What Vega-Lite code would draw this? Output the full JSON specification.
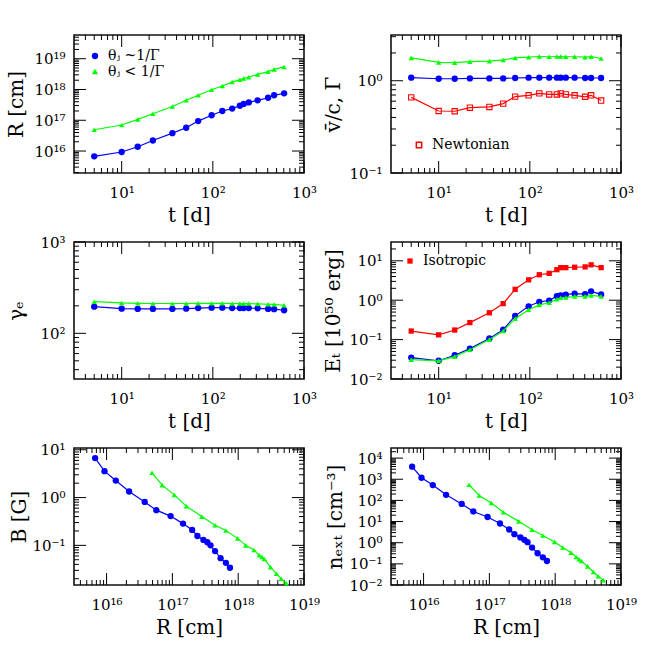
{
"$schema":"https://vega.github.io/schema/vega-lite/v6.json",
"padding":{"left":5,"top":34,"right":0,"bottom":0},
"config":{"view":{"stroke":"#111","strokeWidth":1.6},"font":"DejaVu Serif",
"axis":{"domain":false,"ticks":false,"grid":false,"labelFont":"DejaVu Serif","labelFontSize":15,"labelColor":"#000","titleFont":"DejaVu Serif","titleFontSize":20,"titleFontWeight":"normal","titleColor":"#000","labelFlush":false,"labelOverlap":false},
"tick":{"color":"#000","opacity":1,"thickness":1},
"legend":{"labelFont":"DejaVu Serif","labelFontSize":14,"labelColor":"#000","rowPadding":1.5,"labelOffset":6,"padding":0}},
"datasets":{"d":[
{"t":5,"Rb":6.7e15,"Rg":4.9e16,"Gb":1.08,"Gg":1.77,"vn":0.66,"geb":196,"geg":222,"Eb":0.035,"Eg":0.031,"Ei":0.165,"Bb":6.7,"Bg":3.3,"nb":3940,"ng":547},
{"t":10,"Rb":9.3e15,"Rg":7.0e16,"Gb":1.05,"Gg":1.58,"vn":0.47,"geb":186,"geg":215,"Eb":0.029,"Eg":0.029,"Ei":0.132,"Bb":3.57,"Bg":1.82,"nb":1180,"ng":170},
{"t":15,"Rb":1.38e16,"Rg":1.07e17,"Gb":1.05,"Gg":1.57,"vn":0.467,"geb":185,"geg":213,"Eb":0.040,"Eg":0.037,"Ei":0.175,"Bb":2.27,"Bg":1.14,"nb":530,"ng":76},
{"t":22,"Rb":2.2e16,"Rg":1.63e17,"Gb":1.06,"Gg":1.61,"vn":0.51,"geb":185,"geg":212,"Eb":0.059,"Eg":0.055,"Ei":0.27,"Bb":1.34,"Bg":0.66,"nb":183,"ng":27.4},
{"t":36,"Rb":3.8e16,"Rg":2.8e17,"Gb":1.06,"Gg":1.63,"vn":0.52,"geb":185,"geg":212,"Eb":0.107,"Eg":0.10,"Ei":0.48,"Bb":0.81,"Bg":0.40,"nb":68,"ng":10.2},
{"t":51,"Rb":5.7e16,"Rg":4.45e17,"Gb":1.06,"Gg":1.68,"vn":0.565,"geb":186,"geg":212,"Eb":0.178,"Eg":0.165,"Ei":0.82,"Bb":0.545,"Bg":0.264,"nb":30,"ng":4.07},
{"t":69,"Rb":9.4e16,"Rg":6.5e17,"Gb":1.07,"Gg":1.77,"vn":0.673,"geb":189,"geg":213,"Eb":0.40,"Eg":0.34,"Ei":1.89,"Bb":0.41,"Bg":0.204,"nb":16.4,"ng":2.2},
{"t":97,"Rb":1.45e17,"Rg":9.8e17,"Gb":1.08,"Gg":1.80,"vn":0.695,"geb":191,"geg":213,"Eb":0.70,"Eg":0.575,"Ei":3.29,"Bb":0.285,"Bg":0.14,"nb":8.1,"ng":1.09},
{"t":127,"Rb":2.0e17,"Rg":1.3e18,"Gb":1.08,"Gg":1.83,"vn":0.73,"geb":191,"geg":213,"Eb":0.91,"Eg":0.76,"Ei":4.43,"Bb":0.21,"Bg":0.10,"nb":4.2,"ng":0.59},
{"t":163,"Rb":2.4e17,"Rg":1.74e18,"Gb":1.08,"Gg":1.82,"vn":0.71,"geb":189,"geg":212,"Eb":0.98,"Eg":0.86,"Ei":4.8,"Bb":0.157,"Bg":0.080,"nb":2.54,"ng":0.34},
{"t":198,"Rb":2.96e17,"Rg":2.08e18,"Gb":1.08,"Gg":1.83,"vn":0.71,"geb":189,"geg":212,"Eb":1.27,"Eg":1.06,"Ei":5.95,"Bb":0.13,"Bg":0.062,"nb":1.77,"ng":0.21},
{"t":218,"Rb":3.4e17,"Rg":2.3e18,"Gb":1.08,"Gg":1.83,"vn":0.73,"geb":189,"geg":212,"Eb":1.32,"Eg":1.15,"Ei":6.7,"Bb":0.116,"Bg":0.057,"nb":1.36,"ng":0.164},
{"t":248,"Rb":3.8e17,"Rg":2.5e18,"Gb":1.08,"Gg":1.82,"vn":0.71,"geb":189,"geg":212,"Eb":1.38,"Eg":1.17,"Ei":6.7,"Bb":0.10,"Bg":0.052,"nb":1.06,"ng":0.136},
{"t":310,"Rb":4.45e17,"Rg":3.1e18,"Gb":1.08,"Gg":1.82,"vn":0.695,"geb":188,"geg":210,"Eb":1.46,"Eg":1.25,"Ei":6.86,"Bb":0.076,"Bg":0.035,"nb":0.59,"ng":0.076},
{"t":404,"Rb":5.4e17,"Rg":3.8e18,"Gb":1.07,"Gg":1.80,"vn":0.67,"geb":185,"geg":208,"Eb":1.42,"Eg":1.25,"Ei":7.0,"Bb":0.054,"Bg":0.0255,"nb":0.316,"ng":0.041},
{"t":470,"Rb":6.5e17,"Rg":4.5e18,"Gb":1.07,"Gg":1.82,"vn":0.695,"geb":184,"geg":207,"Eb":1.68,"Eg":1.32,"Ei":7.9,"Bb":0.043,"Bg":0.020,"nb":0.204,"ng":0.026},
{"t":605,"Rb":7.5e17,"Rg":5.4e18,"Gb":1.07,"Gg":1.74,"vn":0.61,"geb":179,"geg":203,"Eb":1.40,"Eg":1.25,"Ei":6.7,"Bb":0.034,"Bg":0.016,"nb":0.136,"ng":0.017}
],
"tM":[{"v":10},{"v":100},{"v":1000}],
"tm":[{"v":4},{"v":5},{"v":6},{"v":7},{"v":8},{"v":9},{"v":20},{"v":30},{"v":40},{"v":50},{"v":60},{"v":70},{"v":80},{"v":90},{"v":200},{"v":300},{"v":400},{"v":500},{"v":600},{"v":700},{"v":800},{"v":900}],
"RM":[{"v":1e16},{"v":1e17},{"v":1e18},{"v":1e19}],
"Rm1":[{"v":2e15},{"v":3e15},{"v":4e15},{"v":5e15},{"v":6e15},{"v":7e15},{"v":8e15},{"v":9e15},{"v":2e16},{"v":3e16},{"v":4e16},{"v":5e16},{"v":6e16},{"v":7e16},{"v":8e16},{"v":9e16},{"v":2e17},{"v":3e17},{"v":4e17},{"v":5e17},{"v":6e17},{"v":7e17},{"v":8e17},{"v":9e17},{"v":2e18},{"v":3e18},{"v":4e18},{"v":5e18},{"v":6e18},{"v":7e18},{"v":8e18},{"v":9e18},{"v":2e19},{"v":3e19},{"v":4e19},{"v":5e19}],
"Rm2":[{"v":4e15},{"v":5e15},{"v":6e15},{"v":7e15},{"v":8e15},{"v":9e15},{"v":2e16},{"v":3e16},{"v":4e16},{"v":5e16},{"v":6e16},{"v":7e16},{"v":8e16},{"v":9e16},{"v":2e17},{"v":3e17},{"v":4e17},{"v":5e17},{"v":6e17},{"v":7e17},{"v":8e17},{"v":9e17},{"v":2e18},{"v":3e18},{"v":4e18},{"v":5e18},{"v":6e18},{"v":7e18},{"v":8e18},{"v":9e18}],
"GM":[{"v":0.1},{"v":1}],
"Gm":[{"v":0.2},{"v":0.3},{"v":0.4},{"v":0.5},{"v":0.6},{"v":0.7},{"v":0.8},{"v":0.9},{"v":2},{"v":3}],
"gM":[{"v":100},{"v":1000}],
"gm":[{"v":40},{"v":50},{"v":60},{"v":70},{"v":80},{"v":90},{"v":200},{"v":300},{"v":400},{"v":500},{"v":600},{"v":700},{"v":800},{"v":900}],
"EM":[{"v":0.01},{"v":0.1},{"v":1},{"v":10}],
"Em":[{"v":0.02},{"v":0.03},{"v":0.04},{"v":0.05},{"v":0.06},{"v":0.07},{"v":0.08},{"v":0.09},{"v":0.2},{"v":0.3},{"v":0.4},{"v":0.5},{"v":0.6},{"v":0.7},{"v":0.8},{"v":0.9},{"v":2},{"v":3},{"v":4},{"v":5},{"v":6},{"v":7},{"v":8},{"v":9},{"v":20}],
"BM":[{"v":0.1},{"v":1},{"v":10}],
"Bm":[{"v":0.02},{"v":0.03},{"v":0.04},{"v":0.05},{"v":0.06},{"v":0.07},{"v":0.08},{"v":0.09},{"v":0.2},{"v":0.3},{"v":0.4},{"v":0.5},{"v":0.6},{"v":0.7},{"v":0.8},{"v":0.9},{"v":2},{"v":3},{"v":4},{"v":5},{"v":6},{"v":7},{"v":8},{"v":9}],
"nM":[{"v":0.01},{"v":0.1},{"v":1},{"v":10},{"v":100},{"v":1000},{"v":10000}],
"nm":[{"v":0.02},{"v":0.03},{"v":0.04},{"v":0.05},{"v":0.06},{"v":0.07},{"v":0.08},{"v":0.09},{"v":0.2},{"v":0.3},{"v":0.4},{"v":0.5},{"v":0.6},{"v":0.7},{"v":0.8},{"v":0.9},{"v":2},{"v":3},{"v":4},{"v":5},{"v":6},{"v":7},{"v":8},{"v":9},{"v":20},{"v":30},{"v":40},{"v":50},{"v":60},{"v":70},{"v":80},{"v":90},{"v":200},{"v":300},{"v":400},{"v":500},{"v":600},{"v":700},{"v":800},{"v":900},{"v":2000},{"v":3000},{"v":4000},{"v":5000},{"v":6000},{"v":7000},{"v":8000},{"v":9000},{"v":20000}]
},
"data":{"name":"d"},
"columns":2,
"spacing":{"row":69,"column":87},
"bounds":"flush",
"resolve":{"scale":{"color":"independent","shape":"independent"}},
"concat":[
{"width":230,"height":138,"resolve":{"axis":{"x":"independent","y":"independent"}},
"layer":[
{"mark":{"type":"point","opacity":0},"encoding":{
"x":{"field":"t","type":"quantitative","scale":{"type":"log","domain":[3,1000],"nice":false},"axis":{"orient":"bottom","values":[10,100,1000],"labelExpr":"'10'+(round(log(datum.value)/LN10)<0?'⁻':'')+(abs(round(log(datum.value)/LN10))>9?substring('⁰¹²³⁴⁵⁶⁷⁸⁹',floor(abs(round(log(datum.value)/LN10))/10),floor(abs(round(log(datum.value)/LN10))/10)+1):'')+substring('⁰¹²³⁴⁵⁶⁷⁸⁹',abs(round(log(datum.value)/LN10))%10,abs(round(log(datum.value)/LN10))%10+1)","labelPadding":24,"labelBaseline":"alphabetic","title":"t [d]","titleY":48,"titleBaseline":"alphabetic"}},
"y":{"field":"Rb","type":"quantitative","scale":{"type":"log","domain":[1.93e15,5.9e19],"nice":false},"axis":{"orient":"left","values":[1e16,1e17,1e18,1e19],"labelExpr":"'10'+(round(log(datum.value)/LN10)<0?'⁻':'')+(abs(round(log(datum.value)/LN10))>9?substring('⁰¹²³⁴⁵⁶⁷⁸⁹',floor(abs(round(log(datum.value)/LN10))/10),floor(abs(round(log(datum.value)/LN10))/10)+1):'')+substring('⁰¹²³⁴⁵⁶⁷⁸⁹',abs(round(log(datum.value)/LN10))%10,abs(round(log(datum.value)/LN10))%10+1)","labelPadding":9,"labelBaseline":"middle","title":"R [cm]","titleX":-52,"titleBaseline":"alphabetic"}}}},
{"data":{"name":"tM"},"mark":{"type":"tick","orient":"vertical","size":12,"yOffset":-6},"encoding":{"x":{"field":"v","type":"quantitative","axis":null},"y":{"datum":1.93e15,"axis":null}}},
{"data":{"name":"tm"},"mark":{"type":"tick","orient":"vertical","size":5,"yOffset":-2.5},"encoding":{"x":{"field":"v","type":"quantitative","axis":null},"y":{"datum":1.93e15,"axis":null}}},
{"data":{"name":"tM"},"mark":{"type":"tick","orient":"vertical","size":12,"yOffset":6},"encoding":{"x":{"field":"v","type":"quantitative","axis":null},"y":{"datum":5.9e19,"axis":null}}},
{"data":{"name":"tm"},"mark":{"type":"tick","orient":"vertical","size":5,"yOffset":2.5},"encoding":{"x":{"field":"v","type":"quantitative","axis":null},"y":{"datum":5.9e19,"axis":null}}},
{"data":{"name":"RM"},"mark":{"type":"tick","orient":"horizontal","size":12,"xOffset":6},"encoding":{"y":{"field":"v","type":"quantitative","axis":null},"x":{"datum":3,"axis":null}}},
{"data":{"name":"Rm1"},"mark":{"type":"tick","orient":"horizontal","size":5,"xOffset":2.5},"encoding":{"y":{"field":"v","type":"quantitative","axis":null},"x":{"datum":3,"axis":null}}},
{"data":{"name":"RM"},"mark":{"type":"tick","orient":"horizontal","size":12,"xOffset":-6},"encoding":{"y":{"field":"v","type":"quantitative","axis":null},"x":{"datum":1000,"axis":null}}},
{"data":{"name":"Rm1"},"mark":{"type":"tick","orient":"horizontal","size":5,"xOffset":-2.5},"encoding":{"y":{"field":"v","type":"quantitative","axis":null},"x":{"datum":1000,"axis":null}}},
{"mark":{"type":"line","color":"#0000ff","strokeWidth":1.2},"encoding":{"x":{"field":"t","type":"quantitative","axis":null},"y":{"field":"Rb","type":"quantitative","axis":null}}},
{"mark":{"type":"point","filled":true,"opacity":1,"size":40},"encoding":{"x":{"field":"t","type":"quantitative","axis":null},"y":{"field":"Rb","type":"quantitative","axis":null},
"color":{"datum":"θⱼ ~1/Γ","type":"nominal","scale":{"domain":["θⱼ ~1/Γ","θⱼ < 1/Γ"],"range":["#0000ff","#00ff00"]},"legend":{"orient":"top-left","offset":14,"title":null,"symbolSize":40}},
"shape":{"datum":"θⱼ ~1/Γ","type":"nominal","scale":{"domain":["θⱼ ~1/Γ","θⱼ < 1/Γ"],"range":["circle","triangle-up"]}}}},
{"mark":{"type":"line","color":"#00ff00","strokeWidth":1.2},"encoding":{"x":{"field":"t","type":"quantitative","axis":null},"y":{"field":"Rg","type":"quantitative","axis":null}}},
{"mark":{"type":"point","filled":true,"opacity":1,"size":28},"encoding":{"x":{"field":"t","type":"quantitative","axis":null},"y":{"field":"Rg","type":"quantitative","axis":null},
"color":{"datum":"θⱼ < 1/Γ","type":"nominal"},"shape":{"datum":"θⱼ < 1/Γ","type":"nominal"}}}
]},
{"width":230,"height":138,"resolve":{"axis":{"x":"independent","y":"independent"}},
"layer":[
{"mark":{"type":"point","opacity":0},"encoding":{
"x":{"field":"t","type":"quantitative","scale":{"type":"log","domain":[3,1000],"nice":false},"axis":{"orient":"bottom","values":[10,100,1000],"labelExpr":"'10'+(round(log(datum.value)/LN10)<0?'⁻':'')+(abs(round(log(datum.value)/LN10))>9?substring('⁰¹²³⁴⁵⁶⁷⁸⁹',floor(abs(round(log(datum.value)/LN10))/10),floor(abs(round(log(datum.value)/LN10))/10)+1):'')+substring('⁰¹²³⁴⁵⁶⁷⁸⁹',abs(round(log(datum.value)/LN10))%10,abs(round(log(datum.value)/LN10))%10+1)","labelPadding":24,"labelBaseline":"alphabetic","title":"t [d]","titleY":48,"titleBaseline":"alphabetic"}},
"y":{"field":"Gb","type":"quantitative","scale":{"type":"log","domain":[0.1,3.13],"nice":false},"axis":{"orient":"left","values":[0.1,1],"labelExpr":"'10'+(round(log(datum.value)/LN10)<0?'⁻':'')+(abs(round(log(datum.value)/LN10))>9?substring('⁰¹²³⁴⁵⁶⁷⁸⁹',floor(abs(round(log(datum.value)/LN10))/10),floor(abs(round(log(datum.value)/LN10))/10)+1):'')+substring('⁰¹²³⁴⁵⁶⁷⁸⁹',abs(round(log(datum.value)/LN10))%10,abs(round(log(datum.value)/LN10))%10+1)","labelPadding":9,"labelBaseline":"middle","title":"v̄/c, Γ","titleX":-52,"titleBaseline":"alphabetic"}}}},
{"data":{"name":"tM"},"mark":{"type":"tick","orient":"vertical","size":12,"yOffset":-6},"encoding":{"x":{"field":"v","type":"quantitative","axis":null},"y":{"datum":0.1,"axis":null}}},
{"data":{"name":"tm"},"mark":{"type":"tick","orient":"vertical","size":5,"yOffset":-2.5},"encoding":{"x":{"field":"v","type":"quantitative","axis":null},"y":{"datum":0.1,"axis":null}}},
{"data":{"name":"tM"},"mark":{"type":"tick","orient":"vertical","size":12,"yOffset":6},"encoding":{"x":{"field":"v","type":"quantitative","axis":null},"y":{"datum":3.13,"axis":null}}},
{"data":{"name":"tm"},"mark":{"type":"tick","orient":"vertical","size":5,"yOffset":2.5},"encoding":{"x":{"field":"v","type":"quantitative","axis":null},"y":{"datum":3.13,"axis":null}}},
{"data":{"name":"GM"},"mark":{"type":"tick","orient":"horizontal","size":12,"xOffset":6},"encoding":{"y":{"field":"v","type":"quantitative","axis":null},"x":{"datum":3,"axis":null}}},
{"data":{"name":"Gm"},"mark":{"type":"tick","orient":"horizontal","size":5,"xOffset":2.5},"encoding":{"y":{"field":"v","type":"quantitative","axis":null},"x":{"datum":3,"axis":null}}},
{"data":{"name":"GM"},"mark":{"type":"tick","orient":"horizontal","size":12,"xOffset":-6},"encoding":{"y":{"field":"v","type":"quantitative","axis":null},"x":{"datum":1000,"axis":null}}},
{"data":{"name":"Gm"},"mark":{"type":"tick","orient":"horizontal","size":5,"xOffset":-2.5},"encoding":{"y":{"field":"v","type":"quantitative","axis":null},"x":{"datum":1000,"axis":null}}},
{"mark":{"type":"line","color":"#0000ff","strokeWidth":1.2},"encoding":{"x":{"field":"t","type":"quantitative","axis":null},"y":{"field":"Gb","type":"quantitative","axis":null}}},
{"mark":{"type":"point","filled":true,"opacity":1,"size":40,"color":"#0000ff","shape":"circle"},"encoding":{"x":{"field":"t","type":"quantitative","axis":null},"y":{"field":"Gb","type":"quantitative","axis":null}}},
{"mark":{"type":"line","color":"#00ff00","strokeWidth":1.2},"encoding":{"x":{"field":"t","type":"quantitative","axis":null},"y":{"field":"Gg","type":"quantitative","axis":null}}},
{"mark":{"type":"point","filled":true,"opacity":1,"size":28,"color":"#00ff00","shape":"triangle-up"},"encoding":{"x":{"field":"t","type":"quantitative","axis":null},"y":{"field":"Gg","type":"quantitative","axis":null}}},
{"mark":{"type":"line","color":"#ff0000","strokeWidth":1.2},"encoding":{"x":{"field":"t","type":"quantitative","axis":null},"y":{"field":"vn","type":"quantitative","axis":null}}},
{"mark":{"type":"point","filled":false,"opacity":1,"size":28,"shape":"square","strokeWidth":1.1},"encoding":{"x":{"field":"t","type":"quantitative","axis":null},"y":{"field":"vn","type":"quantitative","axis":null},
"color":{"datum":"Newtonian","type":"nominal","scale":{"domain":["Newtonian"],"range":["#ff0000"]},"legend":{"orient":"bottom-left","offset":21,"title":null,"symbolType":"square","symbolSize":28}}}}
]},
{"width":230,"height":137,"resolve":{"axis":{"x":"independent","y":"independent"}},
"layer":[
{"mark":{"type":"point","opacity":0},"encoding":{
"x":{"field":"t","type":"quantitative","scale":{"type":"log","domain":[3,1000],"nice":false},"axis":{"orient":"bottom","values":[10,100,1000],"labelExpr":"'10'+(round(log(datum.value)/LN10)<0?'⁻':'')+(abs(round(log(datum.value)/LN10))>9?substring('⁰¹²³⁴⁵⁶⁷⁸⁹',floor(abs(round(log(datum.value)/LN10))/10),floor(abs(round(log(datum.value)/LN10))/10)+1):'')+substring('⁰¹²³⁴⁵⁶⁷⁸⁹',abs(round(log(datum.value)/LN10))%10,abs(round(log(datum.value)/LN10))%10+1)","labelPadding":24,"labelBaseline":"alphabetic","title":"t [d]","titleY":48,"titleBaseline":"alphabetic"}},
"y":{"field":"geb","type":"quantitative","scale":{"type":"log","domain":[31.6,1000],"nice":false},"axis":{"orient":"left","values":[100,1000],"labelExpr":"'10'+(round(log(datum.value)/LN10)<0?'⁻':'')+(abs(round(log(datum.value)/LN10))>9?substring('⁰¹²³⁴⁵⁶⁷⁸⁹',floor(abs(round(log(datum.value)/LN10))/10),floor(abs(round(log(datum.value)/LN10))/10)+1):'')+substring('⁰¹²³⁴⁵⁶⁷⁸⁹',abs(round(log(datum.value)/LN10))%10,abs(round(log(datum.value)/LN10))%10+1)","labelPadding":9,"labelBaseline":"middle","title":"γₑ","titleX":-52,"titleBaseline":"alphabetic"}}}},
{"data":{"name":"tM"},"mark":{"type":"tick","orient":"vertical","size":12,"yOffset":-6},"encoding":{"x":{"field":"v","type":"quantitative","axis":null},"y":{"datum":31.6,"axis":null}}},
{"data":{"name":"tm"},"mark":{"type":"tick","orient":"vertical","size":5,"yOffset":-2.5},"encoding":{"x":{"field":"v","type":"quantitative","axis":null},"y":{"datum":31.6,"axis":null}}},
{"data":{"name":"tM"},"mark":{"type":"tick","orient":"vertical","size":12,"yOffset":6},"encoding":{"x":{"field":"v","type":"quantitative","axis":null},"y":{"datum":1000,"axis":null}}},
{"data":{"name":"tm"},"mark":{"type":"tick","orient":"vertical","size":5,"yOffset":2.5},"encoding":{"x":{"field":"v","type":"quantitative","axis":null},"y":{"datum":1000,"axis":null}}},
{"data":{"name":"gM"},"mark":{"type":"tick","orient":"horizontal","size":12,"xOffset":6},"encoding":{"y":{"field":"v","type":"quantitative","axis":null},"x":{"datum":3,"axis":null}}},
{"data":{"name":"gm"},"mark":{"type":"tick","orient":"horizontal","size":5,"xOffset":2.5},"encoding":{"y":{"field":"v","type":"quantitative","axis":null},"x":{"datum":3,"axis":null}}},
{"data":{"name":"gM"},"mark":{"type":"tick","orient":"horizontal","size":12,"xOffset":-6},"encoding":{"y":{"field":"v","type":"quantitative","axis":null},"x":{"datum":1000,"axis":null}}},
{"data":{"name":"gm"},"mark":{"type":"tick","orient":"horizontal","size":5,"xOffset":-2.5},"encoding":{"y":{"field":"v","type":"quantitative","axis":null},"x":{"datum":1000,"axis":null}}},
{"mark":{"type":"line","color":"#0000ff","strokeWidth":1.2},"encoding":{"x":{"field":"t","type":"quantitative","axis":null},"y":{"field":"geb","type":"quantitative","axis":null}}},
{"mark":{"type":"point","filled":true,"opacity":1,"size":40,"color":"#0000ff","shape":"circle"},"encoding":{"x":{"field":"t","type":"quantitative","axis":null},"y":{"field":"geb","type":"quantitative","axis":null}}},
{"mark":{"type":"line","color":"#00ff00","strokeWidth":1.2},"encoding":{"x":{"field":"t","type":"quantitative","axis":null},"y":{"field":"geg","type":"quantitative","axis":null}}},
{"mark":{"type":"point","filled":true,"opacity":1,"size":28,"color":"#00ff00","shape":"triangle-up"},"encoding":{"x":{"field":"t","type":"quantitative","axis":null},"y":{"field":"geg","type":"quantitative","axis":null}}}
]},
{"width":230,"height":137,"resolve":{"axis":{"x":"independent","y":"independent"}},
"layer":[
{"mark":{"type":"point","opacity":0},"encoding":{
"x":{"field":"t","type":"quantitative","scale":{"type":"log","domain":[3,1000],"nice":false},"axis":{"orient":"bottom","values":[10,100,1000],"labelExpr":"'10'+(round(log(datum.value)/LN10)<0?'⁻':'')+(abs(round(log(datum.value)/LN10))>9?substring('⁰¹²³⁴⁵⁶⁷⁸⁹',floor(abs(round(log(datum.value)/LN10))/10),floor(abs(round(log(datum.value)/LN10))/10)+1):'')+substring('⁰¹²³⁴⁵⁶⁷⁸⁹',abs(round(log(datum.value)/LN10))%10,abs(round(log(datum.value)/LN10))%10+1)","labelPadding":24,"labelBaseline":"alphabetic","title":"t [d]","titleY":48,"titleBaseline":"alphabetic"}},
"y":{"field":"Eb","type":"quantitative","scale":{"type":"log","domain":[0.01,30],"nice":false},"axis":{"orient":"left","values":[0.01,0.1,1,10],"labelExpr":"'10'+(round(log(datum.value)/LN10)<0?'⁻':'')+(abs(round(log(datum.value)/LN10))>9?substring('⁰¹²³⁴⁵⁶⁷⁸⁹',floor(abs(round(log(datum.value)/LN10))/10),floor(abs(round(log(datum.value)/LN10))/10)+1):'')+substring('⁰¹²³⁴⁵⁶⁷⁸⁹',abs(round(log(datum.value)/LN10))%10,abs(round(log(datum.value)/LN10))%10+1)","labelPadding":9,"labelBaseline":"middle","title":"Eₜ [10⁵⁰ erg]","titleX":-52,"titleBaseline":"alphabetic"}}}},
{"data":{"name":"tM"},"mark":{"type":"tick","orient":"vertical","size":12,"yOffset":-6},"encoding":{"x":{"field":"v","type":"quantitative","axis":null},"y":{"datum":0.01,"axis":null}}},
{"data":{"name":"tm"},"mark":{"type":"tick","orient":"vertical","size":5,"yOffset":-2.5},"encoding":{"x":{"field":"v","type":"quantitative","axis":null},"y":{"datum":0.01,"axis":null}}},
{"data":{"name":"tM"},"mark":{"type":"tick","orient":"vertical","size":12,"yOffset":6},"encoding":{"x":{"field":"v","type":"quantitative","axis":null},"y":{"datum":30,"axis":null}}},
{"data":{"name":"tm"},"mark":{"type":"tick","orient":"vertical","size":5,"yOffset":2.5},"encoding":{"x":{"field":"v","type":"quantitative","axis":null},"y":{"datum":30,"axis":null}}},
{"data":{"name":"EM"},"mark":{"type":"tick","orient":"horizontal","size":12,"xOffset":6},"encoding":{"y":{"field":"v","type":"quantitative","axis":null},"x":{"datum":3,"axis":null}}},
{"data":{"name":"Em"},"mark":{"type":"tick","orient":"horizontal","size":5,"xOffset":2.5},"encoding":{"y":{"field":"v","type":"quantitative","axis":null},"x":{"datum":3,"axis":null}}},
{"data":{"name":"EM"},"mark":{"type":"tick","orient":"horizontal","size":12,"xOffset":-6},"encoding":{"y":{"field":"v","type":"quantitative","axis":null},"x":{"datum":1000,"axis":null}}},
{"data":{"name":"Em"},"mark":{"type":"tick","orient":"horizontal","size":5,"xOffset":-2.5},"encoding":{"y":{"field":"v","type":"quantitative","axis":null},"x":{"datum":1000,"axis":null}}},
{"mark":{"type":"line","color":"#ff0000","strokeWidth":1.2},"encoding":{"x":{"field":"t","type":"quantitative","axis":null},"y":{"field":"Ei","type":"quantitative","axis":null}}},
{"mark":{"type":"point","filled":true,"opacity":1,"size":28,"shape":"square"},"encoding":{"x":{"field":"t","type":"quantitative","axis":null},"y":{"field":"Ei","type":"quantitative","axis":null},
"color":{"datum":"Isotropic","type":"nominal","scale":{"domain":["Isotropic"],"range":["#ff0000"]},"legend":{"orient":"top-left","offset":12,"title":null,"symbolType":"square","symbolSize":28}}}},
{"mark":{"type":"line","color":"#0000ff","strokeWidth":1.2},"encoding":{"x":{"field":"t","type":"quantitative","axis":null},"y":{"field":"Eb","type":"quantitative","axis":null}}},
{"mark":{"type":"point","filled":true,"opacity":1,"size":40,"color":"#0000ff","shape":"circle"},"encoding":{"x":{"field":"t","type":"quantitative","axis":null},"y":{"field":"Eb","type":"quantitative","axis":null}}},
{"mark":{"type":"line","color":"#00ff00","strokeWidth":1.2},"encoding":{"x":{"field":"t","type":"quantitative","axis":null},"y":{"field":"Eg","type":"quantitative","axis":null}}},
{"mark":{"type":"point","filled":true,"opacity":1,"size":28,"color":"#00ff00","shape":"triangle-up"},"encoding":{"x":{"field":"t","type":"quantitative","axis":null},"y":{"field":"Eg","type":"quantitative","axis":null}}}
]},
{"width":230,"height":137,"resolve":{"axis":{"x":"independent","y":"independent"}},
"layer":[
{"mark":{"type":"point","opacity":0},"encoding":{
"x":{"field":"Rb","type":"quantitative","scale":{"type":"log","domain":[3.2e15,1e19],"nice":false},"axis":{"orient":"bottom","values":[1e16,1e17,1e18,1e19],"labelExpr":"'10'+(round(log(datum.value)/LN10)<0?'⁻':'')+(abs(round(log(datum.value)/LN10))>9?substring('⁰¹²³⁴⁵⁶⁷⁸⁹',floor(abs(round(log(datum.value)/LN10))/10),floor(abs(round(log(datum.value)/LN10))/10)+1):'')+substring('⁰¹²³⁴⁵⁶⁷⁸⁹',abs(round(log(datum.value)/LN10))%10,abs(round(log(datum.value)/LN10))%10+1)","labelPadding":24,"labelBaseline":"alphabetic","title":"R [cm]","titleY":48,"titleBaseline":"alphabetic"}},
"y":{"field":"Bb","type":"quantitative","scale":{"type":"log","domain":[0.0148,10.9],"nice":false},"axis":{"orient":"left","values":[0.1,1,10],"labelExpr":"'10'+(round(log(datum.value)/LN10)<0?'⁻':'')+(abs(round(log(datum.value)/LN10))>9?substring('⁰¹²³⁴⁵⁶⁷⁸⁹',floor(abs(round(log(datum.value)/LN10))/10),floor(abs(round(log(datum.value)/LN10))/10)+1):'')+substring('⁰¹²³⁴⁵⁶⁷⁸⁹',abs(round(log(datum.value)/LN10))%10,abs(round(log(datum.value)/LN10))%10+1)","labelPadding":9,"labelBaseline":"middle","title":"B [G]","titleX":-49,"titleBaseline":"alphabetic"}}}},
{"data":{"name":"RM"},"mark":{"type":"tick","orient":"vertical","size":12,"yOffset":-6},"encoding":{"x":{"field":"v","type":"quantitative","axis":null},"y":{"datum":0.0148,"axis":null}}},
{"data":{"name":"Rm2"},"mark":{"type":"tick","orient":"vertical","size":5,"yOffset":-2.5},"encoding":{"x":{"field":"v","type":"quantitative","axis":null},"y":{"datum":0.0148,"axis":null}}},
{"data":{"name":"RM"},"mark":{"type":"tick","orient":"vertical","size":12,"yOffset":6},"encoding":{"x":{"field":"v","type":"quantitative","axis":null},"y":{"datum":10.9,"axis":null}}},
{"data":{"name":"Rm2"},"mark":{"type":"tick","orient":"vertical","size":5,"yOffset":2.5},"encoding":{"x":{"field":"v","type":"quantitative","axis":null},"y":{"datum":10.9,"axis":null}}},
{"data":{"name":"BM"},"mark":{"type":"tick","orient":"horizontal","size":12,"xOffset":6},"encoding":{"y":{"field":"v","type":"quantitative","axis":null},"x":{"datum":3.2e15,"axis":null}}},
{"data":{"name":"Bm"},"mark":{"type":"tick","orient":"horizontal","size":5,"xOffset":2.5},"encoding":{"y":{"field":"v","type":"quantitative","axis":null},"x":{"datum":3.2e15,"axis":null}}},
{"data":{"name":"BM"},"mark":{"type":"tick","orient":"horizontal","size":12,"xOffset":-6},"encoding":{"y":{"field":"v","type":"quantitative","axis":null},"x":{"datum":1e19,"axis":null}}},
{"data":{"name":"Bm"},"mark":{"type":"tick","orient":"horizontal","size":5,"xOffset":-2.5},"encoding":{"y":{"field":"v","type":"quantitative","axis":null},"x":{"datum":1e19,"axis":null}}},
{"mark":{"type":"line","color":"#0000ff","strokeWidth":1.2},"encoding":{"x":{"field":"Rb","type":"quantitative","axis":null},"y":{"field":"Bb","type":"quantitative","axis":null}}},
{"mark":{"type":"point","filled":true,"opacity":1,"size":40,"color":"#0000ff","shape":"circle"},"encoding":{"x":{"field":"Rb","type":"quantitative","axis":null},"y":{"field":"Bb","type":"quantitative","axis":null}}},
{"mark":{"type":"line","color":"#00ff00","strokeWidth":1.2},"encoding":{"x":{"field":"Rg","type":"quantitative","axis":null},"y":{"field":"Bg","type":"quantitative","axis":null}}},
{"mark":{"type":"point","filled":true,"opacity":1,"size":28,"color":"#00ff00","shape":"triangle-up"},"encoding":{"x":{"field":"Rg","type":"quantitative","axis":null},"y":{"field":"Bg","type":"quantitative","axis":null}}}
]},
{"width":230,"height":137,"resolve":{"axis":{"x":"independent","y":"independent"}},
"layer":[
{"mark":{"type":"point","opacity":0},"encoding":{
"x":{"field":"Rb","type":"quantitative","scale":{"type":"log","domain":[3.2e15,1e19],"nice":false},"axis":{"orient":"bottom","values":[1e16,1e17,1e18,1e19],"labelExpr":"'10'+(round(log(datum.value)/LN10)<0?'⁻':'')+(abs(round(log(datum.value)/LN10))>9?substring('⁰¹²³⁴⁵⁶⁷⁸⁹',floor(abs(round(log(datum.value)/LN10))/10),floor(abs(round(log(datum.value)/LN10))/10)+1):'')+substring('⁰¹²³⁴⁵⁶⁷⁸⁹',abs(round(log(datum.value)/LN10))%10,abs(round(log(datum.value)/LN10))%10+1)","labelPadding":24,"labelBaseline":"alphabetic","title":"R [cm]","titleY":48,"titleBaseline":"alphabetic"}},
"y":{"field":"nb","type":"quantitative","scale":{"type":"log","domain":[0.01,30000],"nice":false},"axis":{"orient":"left","values":[0.01,0.1,1,10,100,1000,10000],"labelExpr":"'10'+(round(log(datum.value)/LN10)<0?'⁻':'')+(abs(round(log(datum.value)/LN10))>9?substring('⁰¹²³⁴⁵⁶⁷⁸⁹',floor(abs(round(log(datum.value)/LN10))/10),floor(abs(round(log(datum.value)/LN10))/10)+1):'')+substring('⁰¹²³⁴⁵⁶⁷⁸⁹',abs(round(log(datum.value)/LN10))%10,abs(round(log(datum.value)/LN10))%10+1)","labelPadding":9,"labelBaseline":"middle","title":"nₑₓₜ [cm⁻³]","titleX":-50,"titleBaseline":"alphabetic"}}}},
{"data":{"name":"RM"},"mark":{"type":"tick","orient":"vertical","size":12,"yOffset":-6},"encoding":{"x":{"field":"v","type":"quantitative","axis":null},"y":{"datum":0.01,"axis":null}}},
{"data":{"name":"Rm2"},"mark":{"type":"tick","orient":"vertical","size":5,"yOffset":-2.5},"encoding":{"x":{"field":"v","type":"quantitative","axis":null},"y":{"datum":0.01,"axis":null}}},
{"data":{"name":"RM"},"mark":{"type":"tick","orient":"vertical","size":12,"yOffset":6},"encoding":{"x":{"field":"v","type":"quantitative","axis":null},"y":{"datum":30000,"axis":null}}},
{"data":{"name":"Rm2"},"mark":{"type":"tick","orient":"vertical","size":5,"yOffset":2.5},"encoding":{"x":{"field":"v","type":"quantitative","axis":null},"y":{"datum":30000,"axis":null}}},
{"data":{"name":"nM"},"mark":{"type":"tick","orient":"horizontal","size":12,"xOffset":6},"encoding":{"y":{"field":"v","type":"quantitative","axis":null},"x":{"datum":3.2e15,"axis":null}}},
{"data":{"name":"nm"},"mark":{"type":"tick","orient":"horizontal","size":5,"xOffset":2.5},"encoding":{"y":{"field":"v","type":"quantitative","axis":null},"x":{"datum":3.2e15,"axis":null}}},
{"data":{"name":"nM"},"mark":{"type":"tick","orient":"horizontal","size":12,"xOffset":-6},"encoding":{"y":{"field":"v","type":"quantitative","axis":null},"x":{"datum":1e19,"axis":null}}},
{"data":{"name":"nm"},"mark":{"type":"tick","orient":"horizontal","size":5,"xOffset":-2.5},"encoding":{"y":{"field":"v","type":"quantitative","axis":null},"x":{"datum":1e19,"axis":null}}},
{"mark":{"type":"line","color":"#0000ff","strokeWidth":1.2},"encoding":{"x":{"field":"Rb","type":"quantitative","axis":null},"y":{"field":"nb","type":"quantitative","axis":null}}},
{"mark":{"type":"point","filled":true,"opacity":1,"size":40,"color":"#0000ff","shape":"circle"},"encoding":{"x":{"field":"Rb","type":"quantitative","axis":null},"y":{"field":"nb","type":"quantitative","axis":null}}},
{"mark":{"type":"line","color":"#00ff00","strokeWidth":1.2},"encoding":{"x":{"field":"Rg","type":"quantitative","axis":null},"y":{"field":"ng","type":"quantitative","axis":null}}},
{"mark":{"type":"point","filled":true,"opacity":1,"size":28,"color":"#00ff00","shape":"triangle-up"},"encoding":{"x":{"field":"Rg","type":"quantitative","axis":null},"y":{"field":"ng","type":"quantitative","axis":null}}}
]}
]
}
